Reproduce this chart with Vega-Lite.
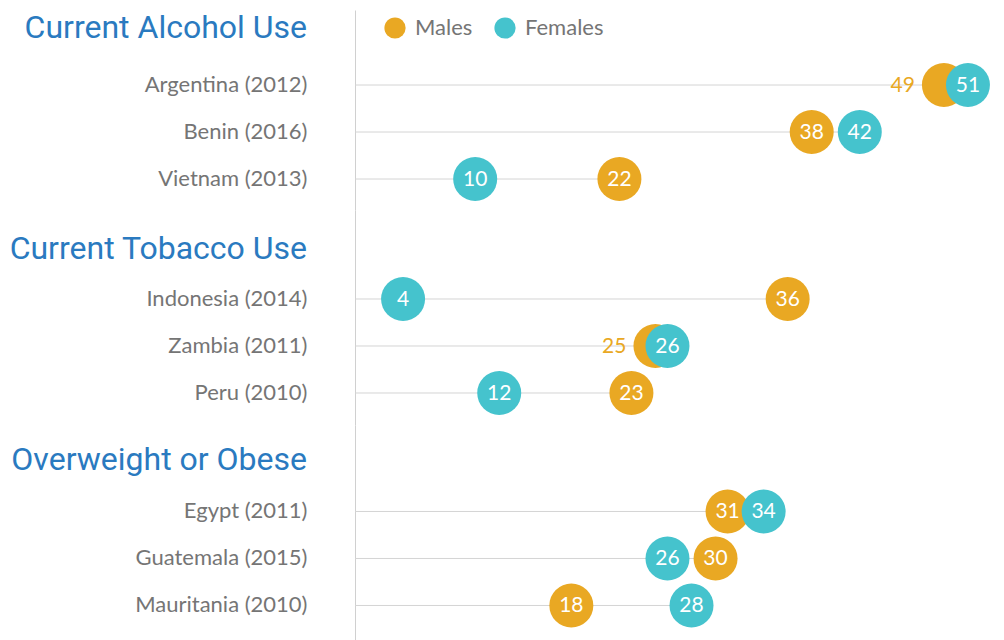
{
  "$schema": "https://vega.github.io/schema/vega-lite/v6.json",
  "padding": {"left": 9, "top": 10, "right": 0, "bottom": 0},
  "background": "white",
  "datasets": {
    "rows": [
      {"group": "Current Alcohol Use", "country": "Argentina (2012)", "sex": "Males", "value": 49},
      {"group": "Current Alcohol Use", "country": "Benin (2016)", "sex": "Males", "value": 38},
      {"group": "Current Alcohol Use", "country": "Vietnam (2013)", "sex": "Males", "value": 22},
      {"group": "Current Tobacco Use", "country": "Indonesia (2014)", "sex": "Males", "value": 36},
      {"group": "Current Tobacco Use", "country": "Zambia (2011)", "sex": "Males", "value": 25},
      {"group": "Current Tobacco Use", "country": "Peru (2010)", "sex": "Males", "value": 23},
      {"group": "Overweight or Obese", "country": "Egypt (2011)", "sex": "Males", "value": 31},
      {"group": "Overweight or Obese", "country": "Guatemala (2015)", "sex": "Males", "value": 30},
      {"group": "Overweight or Obese", "country": "Mauritania (2010)", "sex": "Males", "value": 18},
      {"group": "Current Alcohol Use", "country": "Argentina (2012)", "sex": "Females", "value": 51},
      {"group": "Current Alcohol Use", "country": "Benin (2016)", "sex": "Females", "value": 42},
      {"group": "Current Alcohol Use", "country": "Vietnam (2013)", "sex": "Females", "value": 10},
      {"group": "Current Tobacco Use", "country": "Indonesia (2014)", "sex": "Females", "value": 4},
      {"group": "Current Tobacco Use", "country": "Zambia (2011)", "sex": "Females", "value": 26},
      {"group": "Current Tobacco Use", "country": "Peru (2010)", "sex": "Females", "value": 12},
      {"group": "Overweight or Obese", "country": "Egypt (2011)", "sex": "Females", "value": 34},
      {"group": "Overweight or Obese", "country": "Guatemala (2015)", "sex": "Females", "value": 26},
      {"group": "Overweight or Obese", "country": "Mauritania (2010)", "sex": "Females", "value": 28}
    ]
  },
  "resolve": {"legend": {"color": "independent"}},
  "vconcat": [
    {
      "width": 649, "height": 200,
      "data": {"name": "rows"},
      "title": {"text": "Current Alcohol Use", "frame": "group", "anchor": "start", "align": "right", "dx": -48, "offset": -60, "baseline": "alphabetic", "font": "Roboto", "fontSize": 32, "fontWeight": "normal", "color": "#2A7AC0"},
      "transform": [
        {"filter": "datum.group == 'Current Alcohol Use'"},
        {"joinaggregate": [{"op": "max", "field": "value", "as": "vmax"}, {"op": "min", "field": "value", "as": "vmin"}], "groupby": ["country"]}
      ],
      "encoding": {
        "y": {"field": "country", "type": "nominal", "sort": null, "title": null,
              "scale": {"paddingInner": 0, "paddingOuter": 0.6277, "align": 0.873}}
      },
      "layer": [
        {"mark": {"type": "rule", "color": "#d4d4d4", "strokeWidth": 1},
         "encoding": {"x": {"aggregate": "max", "field": "value", "type": "quantitative", "scale": {"domain": [0, 54], "nice": false, "zero": true}, "axis": null}, "x2": {"datum": 0}}},
        {"mark": {"type": "circle", "size": 1936, "opacity": 1},
         "encoding": {"x": {"field": "value", "type": "quantitative"},
                      "color": {"field": "sex", "type": "nominal", "scale": {"domain": ["Males", "Females"], "range": ["#E9A823", "#45C3CD"]},
                                "legend": {"orient": "none", "legendX": 29, "legendY": 7, "direction": "horizontal", "title": null, "symbolType": "circle", "symbolSize": 450, "symbolOpacity": 1, "symbolStrokeWidth": 0, "labelFont": "Lato", "labelFontSize": 22, "labelColor": "#757575", "labelOffset": 9, "columnPadding": 21}}}},
        {"transform": [{"filter": "!(datum.sex == 'Males' && datum.vmax - datum.vmin <= 2)"}],
         "mark": {"type": "text", "color": "white", "font": "Lato", "fontSize": 21, "baseline": "middle", "align": "center", "dy": 1},
         "encoding": {"x": {"field": "value", "type": "quantitative"}, "text": {"field": "value", "type": "quantitative"}}},
        {"transform": [{"filter": "datum.sex == 'Males' && datum.vmax - datum.vmin <= 2"}],
         "mark": {"type": "text", "color": "#E9A823", "font": "Lato", "fontSize": 21, "baseline": "middle", "align": "right", "dx": -29, "dy": 1},
         "encoding": {"x": {"field": "value", "type": "quantitative"}, "text": {"field": "value", "type": "quantitative"}}}
      ]
    },
    {
      "width": 649, "height": 215,
      "data": {"name": "rows"},
      "title": {"text": "Current Tobacco Use", "frame": "group", "anchor": "start", "align": "right", "dx": -48, "offset": -80.5, "baseline": "alphabetic", "font": "Roboto", "fontSize": 32, "fontWeight": "normal", "color": "#2A7AC0"},
      "transform": [
        {"filter": "datum.group == 'Current Tobacco Use'"},
        {"joinaggregate": [{"op": "max", "field": "value", "as": "vmax"}, {"op": "min", "field": "value", "as": "vmin"}], "groupby": ["country"]}
      ],
      "encoding": {
        "y": {"field": "country", "type": "nominal", "sort": null, "title": null,
              "scale": {"paddingInner": 0, "paddingOuter": 0.7872, "align": 0.885}}
      },
      "layer": [
        {"mark": {"type": "rule", "color": "#d4d4d4", "strokeWidth": 1},
         "encoding": {"x": {"aggregate": "max", "field": "value", "type": "quantitative", "scale": {"domain": [0, 54], "nice": false, "zero": true}, "axis": null}, "x2": {"datum": 0}}},
        {"mark": {"type": "circle", "size": 1936, "opacity": 1},
         "encoding": {"x": {"field": "value", "type": "quantitative"},
                      "color": {"field": "sex", "type": "nominal", "scale": {"domain": ["Males", "Females"], "range": ["#E9A823", "#45C3CD"]}, "legend": null}}},
        {"transform": [{"filter": "!(datum.sex == 'Males' && datum.vmax - datum.vmin <= 2)"}],
         "mark": {"type": "text", "color": "white", "font": "Lato", "fontSize": 21, "baseline": "middle", "align": "center", "dy": 1},
         "encoding": {"x": {"field": "value", "type": "quantitative"}, "text": {"field": "value", "type": "quantitative"}}},
        {"transform": [{"filter": "datum.sex == 'Males' && datum.vmax - datum.vmin <= 2"}],
         "mark": {"type": "text", "color": "#E9A823", "font": "Lato", "fontSize": 21, "baseline": "middle", "align": "right", "dx": -29, "dy": 1},
         "encoding": {"x": {"field": "value", "type": "quantitative"}, "text": {"field": "value", "type": "quantitative"}}}
      ]
    },
    {
      "width": 649, "height": 215,
      "data": {"name": "rows"},
      "title": {"text": "Overweight or Obese", "frame": "group", "anchor": "start", "align": "right", "dx": -48, "offset": -77, "baseline": "alphabetic", "font": "Roboto", "fontSize": 32, "fontWeight": "normal", "color": "#2A7AC0"},
      "transform": [
        {"filter": "datum.group == 'Overweight or Obese'"},
        {"joinaggregate": [{"op": "max", "field": "value", "as": "vmax"}, {"op": "min", "field": "value", "as": "vmin"}], "groupby": ["country"]}
      ],
      "encoding": {
        "y": {"field": "country", "type": "nominal", "sort": null, "title": null,
              "scale": {"paddingInner": 0, "paddingOuter": 0.7872, "align": 0.851}}
      },
      "layer": [
        {"mark": {"type": "rule", "color": "#d4d4d4", "strokeWidth": 1},
         "encoding": {"x": {"aggregate": "max", "field": "value", "type": "quantitative", "scale": {"domain": [0, 54], "nice": false, "zero": true}, "axis": null}, "x2": {"datum": 0}}},
        {"mark": {"type": "circle", "size": 1936, "opacity": 1},
         "encoding": {"x": {"field": "value", "type": "quantitative"},
                      "color": {"field": "sex", "type": "nominal", "scale": {"domain": ["Males", "Females"], "range": ["#E9A823", "#45C3CD"]}, "legend": null}}},
        {"transform": [{"filter": "!(datum.sex == 'Males' && datum.vmax - datum.vmin <= 2)"}],
         "mark": {"type": "text", "color": "white", "font": "Lato", "fontSize": 21, "baseline": "middle", "align": "center", "dy": 1},
         "encoding": {"x": {"field": "value", "type": "quantitative"}, "text": {"field": "value", "type": "quantitative"}}},
        {"transform": [{"filter": "datum.sex == 'Males' && datum.vmax - datum.vmin <= 2"}],
         "mark": {"type": "text", "color": "#E9A823", "font": "Lato", "fontSize": 21, "baseline": "middle", "align": "right", "dx": -29, "dy": 1},
         "encoding": {"x": {"field": "value", "type": "quantitative"}, "text": {"field": "value", "type": "quantitative"}}}
      ]
    }
  ],
  "config": {
    "view": {"stroke": null},
    "concat": {"spacing": 0},
    "axisY": {"domainColor": "#d0d0d0", "domainWidth": 1, "ticks": false, "labelPadding": 48, "labelFont": "Lato", "labelFontSize": 22, "labelColor": "#757575", "grid": false}
  }
}
